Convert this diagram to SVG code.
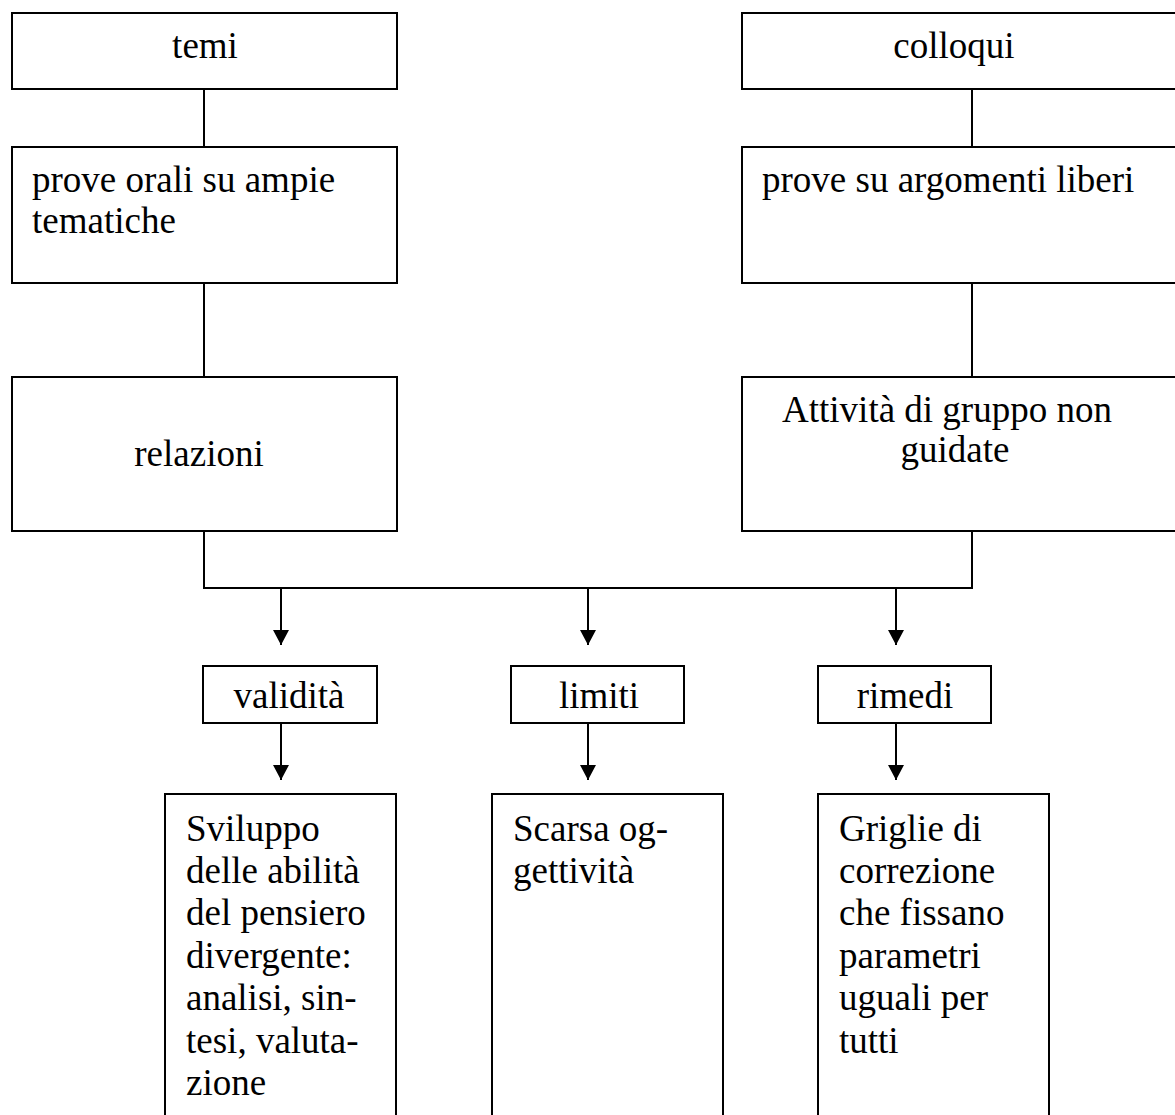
<svg xmlns="http://www.w3.org/2000/svg" width="1175" height="1115" viewBox="0 0 1175 1115">
<style>
  .box { fill: #ffffff; stroke: #000000; stroke-width: 2; }
  .t { font-family: "Liberation Serif", "Times New Roman", serif; font-size: 37px; fill: #000000; }
  .c { text-anchor: middle; }
  .ln { fill: none; stroke: #000000; stroke-width: 2; }
</style>
<defs>
  <marker id="arr" markerUnits="userSpaceOnUse" markerWidth="16" markerHeight="15" viewBox="0 0 16 15" refX="8" refY="15" orient="0">
    <path d="M0,0 L16,0 L8,15 Z" fill="#000000"/>
  </marker>
</defs>
<rect width="1175" height="1115" fill="#ffffff"/>
<g id="connectors">
  <line class="ln" x1="204" y1="89" x2="204" y2="147"/>
  <line class="ln" x1="204" y1="283" x2="204" y2="377"/>
  <line class="ln" x1="972" y1="89" x2="972" y2="147"/>
  <line class="ln" x1="972" y1="283" x2="972" y2="377"/>
  <path class="ln" d="M204,531 V588 H972 V531"/>
  <line class="ln" x1="281" y1="588" x2="281" y2="645" marker-end="url(#arr)"/>
  <line class="ln" x1="588" y1="588" x2="588" y2="645" marker-end="url(#arr)"/>
  <line class="ln" x1="896" y1="588" x2="896" y2="645" marker-end="url(#arr)"/>
  <line class="ln" x1="281" y1="723" x2="281" y2="780" marker-end="url(#arr)"/>
  <line class="ln" x1="588" y1="723" x2="588" y2="780" marker-end="url(#arr)"/>
  <line class="ln" x1="896" y1="723" x2="896" y2="780" marker-end="url(#arr)"/>
</g>
<g id="temi">
  <rect class="box" x="12" y="13" width="385" height="76"/>
  <text class="t c" x="205" y="58">temi</text>
</g>
<g id="colloqui">
  <rect class="box" x="742" y="13" width="460" height="76"/>
  <text class="t c" x="954" y="58">colloqui</text>
</g>
<g id="prove-orali">
  <rect class="box" x="12" y="147" width="385" height="136"/>
  <text class="t" x="32" y="192">prove orali su ampie</text>
  <text class="t" x="32" y="233">tematiche</text>
</g>
<g id="prove-argomenti">
  <rect class="box" x="742" y="147" width="460" height="136"/>
  <text class="t" x="762" y="192">prove su argomenti liberi</text>
</g>
<g id="relazioni">
  <rect class="box" x="12" y="377" width="385" height="154"/>
  <text class="t c" x="199" y="466">relazioni</text>
</g>
<g id="attivita">
  <rect class="box" x="742" y="377" width="460" height="154"/>
  <text class="t c" x="947" y="422">Attività di gruppo non</text>
  <text class="t c" x="955" y="462">guidate</text>
</g>
<g id="validita">
  <rect class="box" x="203" y="666" width="174" height="57"/>
  <text class="t c" x="289" y="708">validità</text>
</g>
<g id="limiti">
  <rect class="box" x="511" y="666" width="173" height="57"/>
  <text class="t c" x="599" y="708">limiti</text>
</g>
<g id="rimedi">
  <rect class="box" x="818" y="666" width="173" height="57"/>
  <text class="t c" x="905" y="708">rimedi</text>
</g>
<g id="sviluppo">
  <rect class="box" x="165" y="794" width="231" height="340"/>
  <text class="t" x="186" y="841">Sviluppo</text>
  <text class="t" x="186" y="883">delle abilità</text>
  <text class="t" x="186" y="925">del pensiero</text>
  <text class="t" x="186" y="968">divergente:</text>
  <text class="t" x="186" y="1010">analisi, sin-</text>
  <text class="t" x="186" y="1053">tesi, valuta-</text>
  <text class="t" x="186" y="1095">zione</text>
</g>
<g id="scarsa">
  <rect class="box" x="492" y="794" width="231" height="340"/>
  <text class="t" x="513" y="841">Scarsa og-</text>
  <text class="t" x="513" y="883">gettività</text>
</g>
<g id="griglie">
  <rect class="box" x="818" y="794" width="231" height="340"/>
  <text class="t" x="839" y="841">Griglie di</text>
  <text class="t" x="839" y="883">correzione</text>
  <text class="t" x="839" y="925">che fissano</text>
  <text class="t" x="839" y="968">parametri</text>
  <text class="t" x="839" y="1010">uguali per</text>
  <text class="t" x="839" y="1053">tutti</text>
</g>
</svg>
